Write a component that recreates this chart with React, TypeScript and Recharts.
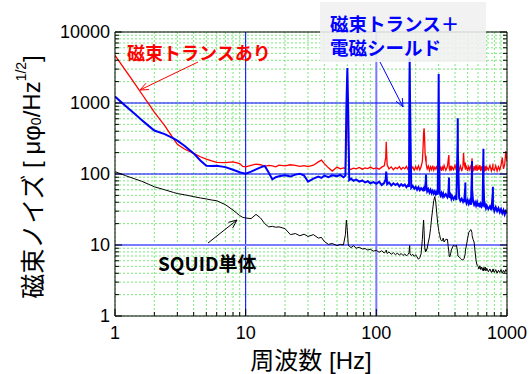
import React from "react";
import {
  CartesianGrid,
  Line,
  LineChart,
  ReferenceLine,
  XAxis,
  YAxis,
} from "recharts";

// frequency [Hz]
const freqs = [
  1, 1.2, 1.4, 1.6, 1.8, 2, 2.4, 2.8, 3, 3.4, 4, 4.5, 5, 5.5, 6, 7, 8, 9, 9.5, 10,
  11, 12, 13, 14, 15, 16, 17, 18, 20, 22, 24, 26, 28, 30, 33, 36, 38, 40, 43, 46,
  50, 53, 56, 58, 59, 60, 61, 62, 64, 67, 70, 74, 78, 82, 86, 90, 95, 100,
  105, 110, 115, 118, 119, 120, 121, 125, 130, 135, 140, 145, 150, 155, 160, 165,
  170, 175, 178, 179, 180, 181, 185, 190, 195, 200, 205, 210, 215, 220, 225, 228,
  230, 232, 234, 236, 239, 240, 241, 245, 250, 255, 260, 265, 270, 275, 280, 285,
  290, 295, 299, 300, 301, 305, 310, 315, 320, 325, 330, 340, 350, 355, 359, 360,
  361, 365, 370, 375, 380, 390, 400, 410, 419, 420, 421, 430, 440, 450, 460, 465,
  470, 479, 480, 481, 490, 500, 510, 520, 530, 539, 540, 541, 550, 560, 570, 580,
  590, 600, 610, 620, 630, 640, 650, 659, 660, 661, 670, 680, 690, 700, 720, 740,
  760, 779, 780, 781, 800, 820, 840, 860, 880, 900, 920, 940, 960, 980, 1000,
];

// 磁束トランスあり
const withTrans = [
  4700, 2900, 1930, 1350, 990, 745, 480, 315, 262, 225, 195, 175, 162, 153, 146, 145, 148, 140, 128, 126,
  132, 138, 135, 128, 132, 130, 126, 133, 130, 135, 132, 128, 131, 127, 133, 148, 157, 140, 122, 110,
  125, 118, 122, 120, 400, 1380, 300, 118, 116, 121, 118, 124, 117, 122, 119, 125, 118, 122,
  117, 125, 130, 170, 285, 190, 135, 118, 126, 115, 123, 119, 127, 116, 124, 118,
  128, 115, 130, 200, 260, 150, 117, 125, 113, 127, 116, 130, 114, 126, 150, 240,
  380, 440, 330, 200, 150, 180, 135, 118, 129, 112, 126, 115, 131, 113, 124, 117,
  130, 112, 140, 190, 130, 115, 128, 111, 125, 116, 132, 113, 127, 160, 185, 150,
  120, 114, 130, 112, 126, 115, 133, 112, 150, 170, 125, 113, 130, 110, 128, 198,
  140, 120, 145, 115, 131, 110, 127, 114, 132, 140, 166, 125, 109, 129, 112, 134,
  111, 127, 115, 133, 110, 128, 113, 140, 150, 118, 112, 130, 110, 126, 114, 132,
  111, 130, 140, 118, 112, 131, 110, 127, 114, 133, 170, 118, 135, 210, 150,
];

// 磁束トランス＋電磁シールド
const withShield = [
  1230, 918, 716, 577, 480, 410, 365, 318, 295, 250, 195, 155, 131, 130, 131, 125, 115, 106, 103, 101,
  108, 116, 124, 130, 105, 84, 90, 93, 96, 92, 98, 101, 95, 78, 86, 92, 88, 95, 90, 96,
  93, 97, 90, 95, 900, 3100, 700, 82, 86, 80, 84, 78, 81, 76, 79, 74, 77, 73,
  78, 70, 75, 85, 108, 90, 72, 76, 69, 74, 70, 73, 67, 72, 68, 71,
  65, 70, 66, 1500, 4300, 1200, 64, 68, 62, 66, 60, 65, 59, 63, 60, 62,
  57, 61, 58, 63, 80, 98, 70, 57, 61, 55, 60, 54, 58, 53, 57, 52,
  56, 51, 800, 2560, 600, 55, 50, 54, 49, 53, 48, 52, 47, 51, 75, 89,
  55, 46, 50, 45, 49, 44, 48, 43, 300, 608, 200, 46, 42, 45, 41, 44,
  40, 65, 76, 45, 39, 43, 38, 42, 37, 110, 152, 60, 41, 37, 40, 36,
  40, 35, 39, 34, 38, 35, 37, 180, 227, 80, 34, 37, 33, 36, 32, 35,
  31, 55, 66, 36, 30, 34, 30, 33, 29, 32, 28, 31, 27, 30, 28,
];

// SQUID単体
const squidOnly = [
  108, 95, 86, 79, 72, 66, 60, 55, 53, 51, 48, 46, 44.5, 43, 42, 37, 31, 26, 24.5, 24,
  23.5, 27, 24, 20, 18, 18.3, 17.8, 18, 17, 14, 14.5, 13.5, 14.2, 13.2, 14, 12.5, 12.8, 11.2, 10.2, 10.5,
  9.8, 10.2, 10, 14, 22.5, 16, 10, 9.6, 9.2, 9.8, 9, 9.3, 8.8, 8.9, 8.5, 8.7, 8.2, 8.4,
  7.9, 8.3, 7.7, 8.1, 8.5, 7.8, 7.6, 8, 7.4, 7.8, 7.3, 7.7, 7.2, 7.6, 7.1, 7.5,
  7, 7.4, 7.8, 9, 9.8, 7.5, 7.1, 7.4, 6.9, 7.3, 6.8, 6.3, 6.6, 7.5, 12, 18,
  22.5, 16, 10, 8.5, 8, 8.8, 8.3, 9, 11, 13, 17, 24, 32, 42, 48, 40,
  28, 20, 17, 16, 15.5, 14, 12, 11.5, 11.5, 12.5, 11, 12, 12, 9.5, 8, 7.5,
  7, 6.8, 7.5, 8.5, 9, 10, 9.5, 10, 8, 7.5, 7, 6.8, 6.5, 6.2, 6.15, 6.3,
  6.5, 7.5, 8, 8.5, 10, 12.5, 15, 16, 16.5, 15, 14, 13.5, 12, 11, 8, 6,
  5.2, 5, 4.6, 5.1, 4.5, 4.9, 4.4, 4.8, 4.3, 4.7, 4.4, 4.9, 4.3, 4.7, 4.2, 4.6,
  4.1, 4.5, 4.2, 4.6, 4.1, 4.5, 4, 4.4, 4.1, 4.5, 4, 4.4, 4.1, 4.5, 4.2,
];

const xTicks = [1, 2, 3, 4, 5, 6, 7, 8, 9, 10, 20, 30, 40, 50, 60, 70, 80, 90, 100, 200, 300, 400, 500, 600, 700, 800, 900, 1000];
const yTicks = [
  1, 2, 3, 4, 5, 6, 7, 8, 9, 10, 20, 30, 40, 50, 60, 70, 80, 90, 100, 200, 300, 400, 500, 600, 700, 800, 900,
  1000, 2000, 3000, 4000, 5000, 6000, 7000, 8000, 9000, 10000,
];
const decades = [1, 10, 100, 1000, 10000];

const rows = freqs.map((f, i) => ({
  f,
  red: withTrans[i],
  blue: withShield[i],
  black: squidOnly[i],
}));

const latin = "'Liberation Sans', Arial, sans-serif";
const cjk = "'Noto Sans CJK JP', sans-serif";
const mixed = "'Liberation Sans', Arial, 'Noto Sans CJK JP', sans-serif";

const BottomTick = (props: any) => {
  const { x, y, payload } = props;
  const major = decades.includes(payload.value);
  return (
    <g>
      <line x1={x} x2={x} y1={y} y2={y - (major ? 7 : 4)} stroke="#000" />
      {major && (
        <text x={x} y={y + 17} textAnchor="middle" dominantBaseline="central" fontSize={18} fontFamily={latin} fill="#000">
          {payload.value}
        </text>
      )}
    </g>
  );
};

const TopTick = (props: any) => {
  const { x, y, payload } = props;
  const major = decades.includes(payload.value);
  return <line x1={x} x2={x} y1={y} y2={y + (major ? 7 : 4)} stroke="#000" />;
};

const LeftTick = (props: any) => {
  const { x, y, payload } = props;
  const major = decades.includes(payload.value);
  return (
    <g>
      <line x1={x} x2={x + (major ? 7 : 4)} y1={y} y2={y} stroke="#000" />
      {major && (
        <text x={x - 5} y={y} textAnchor="end" dominantBaseline="central" fontSize={18} fontFamily={latin} fill="#000">
          {payload.value}
        </text>
      )}
    </g>
  );
};

const RightTick = (props: any) => {
  const { x, y, payload } = props;
  const major = decades.includes(payload.value);
  return <line x1={x} x2={x - (major ? 7 : 4)} y1={y} y2={y} stroke="#000" />;
};

const Arrow = ({ x1, y1, x2, y2, color }: { x1: number; y1: number; x2: number; y2: number; color: string }) => {
  const a = Math.atan2(y2 - y1, x2 - x1);
  const len = 9;
  const spread = 0.4;
  return (
    <g stroke={color} strokeWidth={1} fill="none">
      <line x1={x1} y1={y1} x2={x2} y2={y2} />
      <polyline
        points={`${x2 - len * Math.cos(a - spread)},${y2 - len * Math.sin(a - spread)} ${x2},${y2} ${x2 - len * Math.cos(a + spread)},${y2 - len * Math.sin(a + spread)}`}
      />
    </g>
  );
};

const App = () => {
  return (
    <div style={{ position: "absolute", left: 0, top: 0, width: 531, height: 374, background: "#fff" }}>
      <LineChart width={531} height={374} data={rows} margin={{ top: 22, right: 14, bottom: 28, left: 55 }}>
        <CartesianGrid stroke="#7be87b" strokeDasharray="2 2" strokeWidth={1} />
        <XAxis
          dataKey="f"
          type="number"
          scale="log"
          domain={[1, 1000]}
          ticks={xTicks}
          interval={0}
          height={30}
          tickSize={0}
          tickMargin={0}
          tickLine={false}
          tick={<BottomTick />}
          axisLine={{ stroke: "#000" }}
          allowDataOverflow
        />
        <XAxis
          xAxisId="top"
          orientation="top"
          type="number"
          scale="log"
          domain={[1, 1000]}
          ticks={xTicks}
          interval={0}
          height={10}
          tickSize={0}
          tickMargin={0}
          tickLine={false}
          tick={<TopTick />}
          axisLine={{ stroke: "#000" }}
          allowDataOverflow
        />
        <YAxis
          type="number"
          scale="log"
          domain={[1, 10000]}
          ticks={yTicks}
          interval={0}
          width={60}
          tickSize={0}
          tickMargin={0}
          tickLine={false}
          tick={<LeftTick />}
          axisLine={{ stroke: "#000" }}
          allowDataOverflow
        />
        <YAxis
          yAxisId="right"
          orientation="right"
          type="number"
          scale="log"
          domain={[1, 10000]}
          ticks={yTicks}
          interval={0}
          width={10}
          tickSize={0}
          tickMargin={0}
          tickLine={false}
          tick={<RightTick />}
          axisLine={{ stroke: "#000" }}
          allowDataOverflow
        />
        <ReferenceLine x={10} stroke="#0000ff" strokeWidth={1} />
        <ReferenceLine x={100} stroke="#7a7aff" strokeWidth={2} />
        <ReferenceLine y={1000} stroke="#0000ff" strokeWidth={1} />
        <ReferenceLine y={100} stroke="#0000ff" strokeWidth={1} />
        <ReferenceLine y={10} stroke="#7a7aff" strokeWidth={2} />
        <Line dataKey="red" stroke="#ff0000" strokeWidth={1.3} dot={false} isAnimationActive={false} />
        <Line dataKey="blue" stroke="#0000ff" strokeWidth={2} dot={false} isAnimationActive={false} />
        <Line dataKey="black" stroke="#000000" strokeWidth={1} dot={false} isAnimationActive={false} />
      </LineChart>
      <svg width={531} height={374} style={{ position: "absolute", left: 0, top: 0, pointerEvents: "none" }}>
        <rect x={320} y={2} width={166} height={60} fill="#f0f0f0" opacity={0.88} />
        <text x={330} y={23} dominantBaseline="central" fontSize={18.5} fontWeight="bold" fontFamily={cjk} fill="#0000ff">
          磁束トランス＋
        </text>
        <text x={330} y={47} dominantBaseline="central" fontSize={18.5} fontWeight="bold" fontFamily={cjk} fill="#0000ff">
          電磁シールド
        </text>
        <Arrow x1={380} y1={62} x2={403} y2={107} color="#0000ff" />

        <text x={127} y={52} dominantBaseline="central" fontSize={18} fontWeight="bold" fontFamily={cjk} fill="#ff0000">
          磁束トランスあり
        </text>
        <Arrow x1={198} y1={62} x2={140} y2={90} color="#ff0000" />

        <text x={158} y={262} dominantBaseline="central" fontSize={19} fontWeight="bold" fontFamily={cjk} fill="#000">
          SQUID単体
        </text>
        <Arrow x1={208} y1={243} x2={237} y2={220} color="#000" />

        <text x={311} y={360} textAnchor="middle" dominantBaseline="central" fontSize={24} fontFamily={mixed} fill="#000">
          周波数 [Hz]
        </text>

        <text
          transform="translate(31,177) rotate(-90)"
          textAnchor="middle"
          dominantBaseline="central"
          fontSize={24}
          fontFamily={latin}
          fill="#000"
        >
          <tspan fontFamily={cjk} fontSize={25}>磁束ノイズ</tspan>
          <tspan> [ μφ</tspan>
          <tspan fontSize={14} dy={5}>0</tspan>
          <tspan dy={-5}>/Hz</tspan>
          <tspan fontSize={14} dy={-10}>1/2</tspan>
          <tspan dy={10}>]</tspan>
        </text>
      </svg>
    </div>
  );
};

export default App;
